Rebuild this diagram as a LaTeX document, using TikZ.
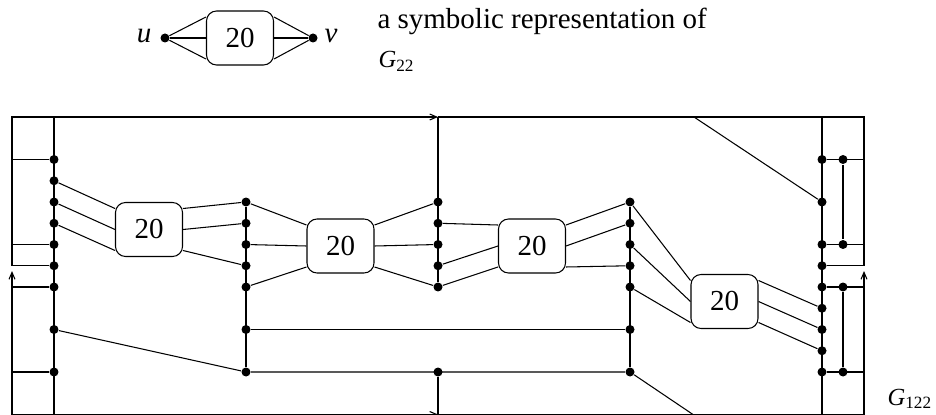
\documentclass[tikz,border=0pt]{standalone}
\usepackage{amsmath}
\usepackage{fontspec}
\setmainfont{Liberation Serif}
\usepackage{tikz}
\usetikzlibrary{arrows.meta, positioning, calc}
\newcommand{\figfont}{\fontsize{16.5}{20}\selectfont}
\newcommand{\gfont}{\fontsize{14}{17}\selectfont}

\begin{document}
\begin{tikzpicture}[x=0.02cm, y=-0.02cm, line width=0.6pt,
  >={Straight Barb[length=1.4mm, width=1.2mm]},
  every node/.style={font=\figfont},
  dot/.style={circle, fill, inner sep=0pt, minimum size=0.18cm},
  tag/.style={inner sep=0pt, anchor=base west},
  gadget/.style={draw, rounded corners=0.2cm, minimum width=1.34cm, minimum height=1.08cm, inner sep=0pt}]
  \useasboundingbox (0,0) rectangle (936,415);
  \node[gadget] (k0) at (240,38) {20};
  \node[dot] (u) at (165,38) {};
  \node[dot] (v) at (313,38) {};
  \node[anchor=base] (ulab) at (144,43) {\textit{u}};
  \node[anchor=base] (vlab) at (331,43) {\textit{v}};
  \node[tag] (note1) at (377,29) {a symbolic representation of};
  \node[tag, font=\gfont] (note2) at (378,68) {\textit{G}$_{\text{22}}$};
  \node[gadget] (k1) at (149,229.5) {20};
  \node[gadget] (k2) at (340.5,246) {20};
  \node[gadget] (k3) at (532,246) {20};
  \node[gadget] (k4) at (724.5,301.5) {20};
  \node[tag, font=\gfont] (gname) at (887,405) {\textit{G}$_{\text{122}}$};
  \foreach \k in {k0,k1,k2,k3,k4} {
    \coordinate (\k w1) at ([yshift=0.42cm]\k.west);
    \coordinate (\k w2) at (\k.west);
    \coordinate (\k w3) at ([yshift=-0.42cm]\k.west);
    \coordinate (\k e1) at ([yshift=0.42cm]\k.east);
    \coordinate (\k e2) at (\k.east);
    \coordinate (\k e3) at ([yshift=-0.42cm]\k.east);
  }
  \foreach \r in {0,1,2,3,4,5,6,8,10} \node[dot] (a\r) at (54,{159.5+21.25*\r}) {};
  \foreach \r in {2,3,4,5,6,8,10} \node[dot] (b\r) at (246,{159.5+21.25*\r}) {};
  \foreach \r in {2,3,4,5,6,10} \node[dot] (c\r) at (438,{159.5+21.25*\r}) {};
  \foreach \r in {2,3,4,5,6,8,10} \node[dot] (d\r) at (630,{159.5+21.25*\r}) {};
  \foreach \r in {0,2,4,5,6,7,8,9,10} \node[dot] (e\r) at (822,{159.5+21.25*\r}) {};
  \foreach \r in {0,4,6,10} \node[dot] (f\r) at (843,{159.5+21.25*\r}) {};
  \coordinate (tl) at (12,117);
  \coordinate (tr) at (864,117);
  \coordinate (bl) at (12,414.5);
  \coordinate (br) at (864,414.5);
  \coordinate (tm) at (438,117);
  \coordinate (bm) at (438,414.5);
  \coordinate (lu) at (12,271);
  \coordinate (ru) at (864,271);
  \coordinate (tx) at (694,117);
  \coordinate (bx) at (693,414.5);
  \draw (u) -- (k0w1); \draw (u) -- (k0w2); \draw (u) -- (k0w3);
  \draw (k0e1) -- (v); \draw (k0e2) -- (v); \draw (k0e3) -- (v);
  \draw[->] (a5 -| tl) -- (tl) -- (tm);
  \draw (tm) -- (tr) -- (e5 -| tr);
  \draw[<->] (lu) -- (bl) -- (bm);
  \draw[->] (bm) -- (br) -- (ru);
  \draw (a0 |- tl) -- (a0 |- bl);
  \draw (e0 |- tr) -- (e0 |- br);
  \draw (tm) -- (c6);
  \draw (c10) -- (bm);
  \draw (b2) -- (b10);
  \draw (d2) -- (d10);
  \draw (f0) -- (f4);
  \draw (f6) -- (f10);
  \foreach \r in {0,4,5,6,10} {
    \draw (a\r) -- (a\r -| tl);
    \draw (e\r) -- (e\r -| tr);
  }
  \draw (a8) -- (b10) -- (d10);
  \draw (b8) -- (d8);
  \draw (tx) -- (e2);
  \draw (d10) -- (bx);
  \foreach \s/\t in {a1/k1w1, a2/k1w2, a3/k1w3, k1e1/b2, k1e2/b3, k1e3/b5,
                     b2/k2w1, b4/k2w2, b6/k2w3, k2e1/c2, k2e2/c4, k2e3/c6,
                     c3/k3w1, c5/k3w2, c6/k3w3, k3e1/d2, k3e2/d3, k3e3/d5,
                     d2/k4w1, d4/k4w2, d6/k4w3, k4e1/e7, k4e2/e8, k4e3/e9}
    \draw (\s) -- (\t);
\end{tikzpicture}
\end{document}
